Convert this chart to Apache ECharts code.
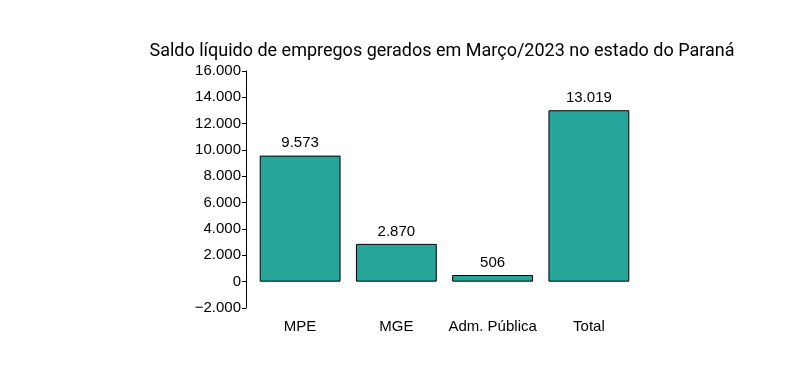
<!DOCTYPE html>
<html><head><meta charset="utf-8">
<script src="https://cdn.jsdelivr.net/npm/echarts@6/dist/echarts.min.js"></script>
<style>html,body{margin:0;padding:0;background:#fff}#c{width:800px;height:390px}</style>
</head><body><div id="c"></div>
<script>
const categories = ['MPE', 'MGE', 'Adm. Pública', 'Total'];
const values = [9573, 2870, 506, 13019];
const yTicks = [-2000, 0, 2000, 4000, 6000, 8000, 10000, 12000, 14000, 16000];
const titleText = 'Saldo líquido de empregos gerados em Março/2023 no estado do Paraná';

function fmt(v) {
  const s = Math.abs(v).toString().replace(/\B(?=(\d{3})+(?!\d))/g, '.');
  return (v < 0 ? '\u2212' : '') + s;
}
const chart = echarts.init(document.getElementById('c'), null, {renderer: 'canvas'});
chart.setOption({
  animation: false,
  title: {
    text: titleText, left: 437, textAlign: 'center', top: 37,
    textStyle: {fontFamily: 'Roboto', fontSize: 18, fontWeight: 'normal', color: '#000'}
  },
  grid: {left: 252, right: 163, top: 71, bottom: 82, containLabel: false},
  xAxis: {
    type: 'category', data: categories,
    axisLine: {show: false, onZero: false}, axisTick: {show: false},
    axisLabel: {interval: 0, margin: 11, fontFamily: 'Liberation Sans', fontSize: 15, color: '#000'}
  },
  yAxis: {
    type: 'value', min: yTicks[0], max: yTicks[yTicks.length - 1], interval: 2000, offset: 6,
    splitLine: {show: false},
    axisLine: {show: true, lineStyle: {color: '#000', width: 1}},
    axisTick: {show: true, length: 4, lineStyle: {color: '#000'}},
    axisLabel: {margin: 5, fontFamily: 'Liberation Sans', fontSize: 15, color: '#000', formatter: fmt}
  },
  series: [{
    type: 'bar', data: values, barCategoryGap: '16%',
    itemStyle: {color: '#26A69A', borderColor: '#000', borderWidth: 1},
    label: {show: true, position: 'top', distance: 5, fontFamily: 'Liberation Sans', fontSize: 15, color: '#000', formatter: p => fmt(p.value)}
  }]
});
</script></body></html>
